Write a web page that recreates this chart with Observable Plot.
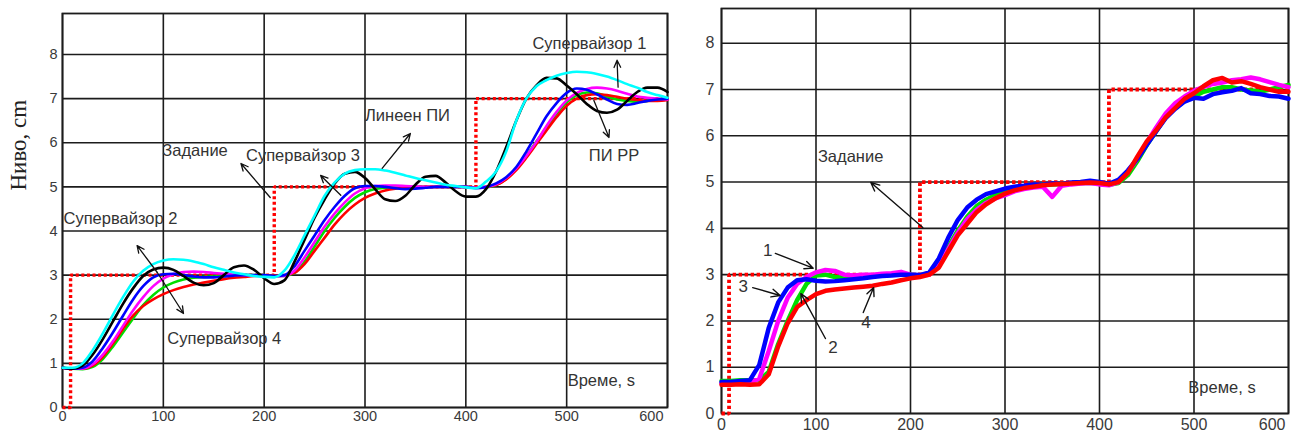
<!DOCTYPE html>
<html>
<head>
<meta charset="utf-8">
<script src="https://cdn.jsdelivr.net/npm/d3@7"></script>
<script src="https://cdn.jsdelivr.net/npm/@observablehq/plot@0.6"></script>
<style>
  html, body { margin: 0; padding: 0; background: #fff; }
  #wrap { position: relative; width: 1295px; height: 434px; overflow: hidden; }
  #left { position: absolute; left: 0; top: 0; }
  #right { position: absolute; left: 680px; top: 0; }
</style>
</head>
<body>
<div id="wrap"><div id="left"></div><div id="right"></div></div>
<script>
// ---------- shared ticks ----------
const xTicks = [0, 100, 200, 300, 400, 500, 600];
const yTicks = [0, 1, 2, 3, 4, 5, 6, 7, 8];
const yLabel = "Ниво, cm";
const xLabel = "Време, s";

// ---------- LEFT PANEL (simulation) ----------
const tL = [0,10,20,30,40,50,60,70,80,90,100,110,120,130,140,150,160,170,180,190,200,210,220,230,240,250,260,270,280,290,300,310,320,330,340,350,360,370,380,390,400,410,420,430,440,450,460,470,480,490,500,510,520,530,540,550,560,570,580,590,600];
const setT = [0, 8, 8, 210, 210, 410, 410, 600];
const setV = [0, 0, 3, 3, 5, 5, 7, 7];

const cyanL = [0.9,0.9,1.0,1.3,1.68,2.1,2.5,2.85,3.1,3.25,3.33,3.36,3.35,3.31,3.25,3.18,3.12,3.06,3.02,2.98,2.96,2.95,3.1,3.45,3.9,4.35,4.8,5.1,5.3,5.38,5.4,5.4,5.37,5.32,5.26,5.2,5.15,5.1,5.05,5.02,4.99,4.97,5.12,5.35,5.8,6.5,7.0,7.28,7.42,7.52,7.58,7.61,7.6,7.56,7.5,7.42,7.33,7.25,7.15,7.08,7.02];
const blackL = [0.9,0.88,0.95,1.2,1.55,1.95,2.35,2.7,2.98,3.13,3.17,3.12,2.98,2.83,2.77,2.82,3.0,3.18,3.22,3.12,2.93,2.8,2.88,3.3,3.8,4.3,4.72,5.08,5.3,5.34,5.2,4.95,4.72,4.68,4.8,5.05,5.23,5.25,5.1,4.9,4.78,4.78,4.95,5.35,5.9,6.5,7.0,7.3,7.47,7.46,7.3,7.1,6.88,6.72,6.68,6.75,6.95,7.15,7.25,7.25,7.15];
const blueL = [0.9,0.88,0.9,1.05,1.35,1.7,2.08,2.45,2.75,2.95,3.02,3.03,3.0,2.97,2.95,2.95,2.97,2.99,3.0,3.0,3.0,2.98,3.0,3.2,3.55,3.9,4.25,4.55,4.8,4.97,5.02,5.02,5.0,4.97,4.95,4.96,4.98,5.0,5.0,5.0,5.0,4.97,5.0,5.08,5.22,5.45,5.8,6.2,6.6,6.9,7.13,7.23,7.2,7.1,6.98,6.88,6.86,6.9,6.95,6.98,7.0];
const magentaL = [0.9,0.88,0.88,0.98,1.2,1.5,1.85,2.2,2.5,2.75,2.92,3.02,3.07,3.08,3.07,3.05,3.03,3.01,3.0,2.99,2.98,2.97,2.98,3.1,3.4,3.75,4.1,4.4,4.65,4.85,4.97,5.02,5.03,5.03,5.02,5.01,5.0,5.0,5.0,5.0,5.0,4.98,5.0,5.06,5.2,5.42,5.7,6.02,6.38,6.7,6.96,7.13,7.22,7.25,7.23,7.18,7.11,7.05,7.02,7.0,6.98];
const greenL = [0.9,0.88,0.87,0.92,1.1,1.38,1.7,2.02,2.32,2.55,2.72,2.83,2.9,2.94,2.96,2.97,2.98,2.99,3.0,3.0,3.0,2.98,2.98,3.05,3.3,3.65,4.0,4.3,4.55,4.75,4.88,4.95,4.98,5.0,5.0,5.0,5.0,5.0,5.0,5.0,5.0,4.98,4.99,5.04,5.18,5.4,5.7,6.03,6.35,6.66,6.92,7.08,7.14,7.12,7.05,6.98,6.95,6.93,6.95,6.97,6.98];
const redL = [0.9,0.88,0.88,0.95,1.15,1.45,1.78,2.08,2.3,2.45,2.57,2.66,2.73,2.79,2.83,2.87,2.91,2.94,2.96,2.98,2.99,2.99,3.0,3.05,3.25,3.55,3.85,4.15,4.4,4.6,4.75,4.85,4.92,4.96,4.98,4.99,5.0,5.0,5.0,5.0,5.0,4.99,5.0,5.04,5.17,5.38,5.66,5.97,6.28,6.58,6.84,7.0,7.08,7.1,7.08,7.04,7.0,6.97,6.95,6.95,6.97];

// annotation texts (left)
const annL = ["Супервайзор 1", "Линеен ПИ", "Супервайзор 3", "Задание", "Супервайзор 2", "Супервайзор 4", "ПИ РР", xLabel];
const annLx = [466, 300, 182, 99, 1, 104, 522, 501];
const annLy = [8.25, 6.62, 5.71, 5.83, 4.29, 1.56, 5.71, 0.61];
// arrows (left): tail -> head
const arrL_x1 = [551, 317, 276, 206, 94, 94, 527];
const arrL_y1 = [7.26, 5.42, 4.81, 4.76, 3.06, 3.06, 6.96];
const arrL_x2 = [550, 345, 256, 177, 74, 120, 542];
const arrL_y2 = [7.87, 6.21, 5.26, 5.53, 3.67, 2.13, 6.12];

// ---------- RIGHT PANEL (experiment) ----------
const tR = tL;
const blueR = [0.68,0.68,0.7,0.72,1.05,1.85,2.4,2.72,2.88,2.9,2.87,2.85,2.86,2.88,2.9,2.92,2.95,2.97,2.98,3.0,3.0,2.99,3.05,3.35,3.8,4.18,4.45,4.62,4.74,4.8,4.86,4.9,4.92,4.95,4.94,4.97,4.96,4.99,5.0,5.03,5.0,4.96,5.05,5.25,5.5,5.8,6.1,6.38,6.58,6.74,6.82,6.8,6.9,6.94,6.97,7.03,6.92,6.9,6.86,6.85,6.8];
const magentaR = [0.65,0.66,0.66,0.68,0.75,1.35,2.0,2.5,2.8,2.95,3.05,3.1,3.08,3.0,2.98,3.0,3.0,3.02,3.03,3.06,3.0,2.98,3.0,3.2,3.55,3.9,4.2,4.4,4.55,4.65,4.72,4.8,4.85,4.88,4.9,4.68,4.92,4.95,4.97,4.98,4.95,4.93,5.0,5.22,5.5,5.85,6.18,6.48,6.7,6.85,6.97,7.06,7.12,7.15,7.2,7.22,7.26,7.22,7.16,7.1,7.05];
const greenR = [0.7,0.7,0.72,0.72,0.72,0.9,1.5,2.0,2.45,2.8,2.98,3.0,2.95,2.93,2.95,2.96,2.97,2.98,3.0,3.0,3.0,2.98,3.02,3.25,3.6,3.95,4.25,4.48,4.62,4.72,4.8,4.86,4.9,4.92,4.94,4.95,4.96,4.97,4.98,4.98,4.97,4.94,4.98,5.15,5.45,5.8,6.1,6.4,6.6,6.75,6.85,6.95,7.0,7.05,7.05,7.0,6.98,6.95,7.0,7.05,7.1];
const redR = [0.62,0.62,0.63,0.62,0.63,0.85,1.45,1.95,2.3,2.45,2.58,2.65,2.68,2.7,2.72,2.74,2.76,2.8,2.83,2.88,2.92,2.95,3.0,3.15,3.5,3.85,4.1,4.35,4.52,4.65,4.75,4.82,4.87,4.9,4.93,4.95,4.96,4.97,4.98,4.99,4.98,4.95,5.0,5.2,5.55,5.88,6.12,6.4,6.6,6.8,6.92,7.07,7.2,7.25,7.15,7.18,7.12,7.05,7.0,6.95,6.95];

const annR = ["Задание", "1", "3", "2", "4", xLabel];
const annRx = [102, 49, 23, 118, 153, 494];
const annRy = [5.54, 3.52, 2.75, 1.43, 1.97, 0.56];
const arrR_x1 = [213, 57, 33, 110, 150];
const arrR_y1 = [4.02, 3.46, 2.72, 1.62, 2.18];
const arrR_x2 = [158, 97, 62, 84, 161];
const arrR_y2 = [4.99, 3.14, 2.55, 2.59, 2.72];

// ---------- helpers ----------
function rows(t, v, key) { return t.map((x, i) => ({t: x, v: v[i], key})); }
const setRows = rows(setT, setV, "set");
function annRows(txt, xs, ys) { return txt.map((s, i) => ({s, x: xs[i], y: ys[i]})); }
function arrRows(x1, y1, x2, y2) { return x1.map((_, i) => ({x1: x1[i], y1: y1[i], x2: x2[i], y2: y2[i]})); }

const gridStroke = "#1c1c1c";
const labelColor = "#3a3a3a";
const sans = "'Liberation Sans', Arial, sans-serif";

function baseMarks(opts) {
  return [
    Plot.gridX(xTicks, {stroke: gridStroke, strokeOpacity: 1, strokeWidth: 1.6}),
    Plot.gridY(yTicks, {stroke: gridStroke, strokeOpacity: 1, strokeWidth: 1.6}),
    Plot.frame({stroke: gridStroke, strokeWidth: 1.8}),
    Plot.axisX(xTicks.slice(0, -1), {tickSize: 0, tickPadding: opts.xPad, fontSize: opts.fs, fill: labelColor, label: null}),
    Plot.text([xTicks[xTicks.length - 1]], {x: d => d, frameAnchor: "bottom", lineAnchor: "top", textAnchor: "end", dy: opts.xPad, dx: opts.lastDx, fontSize: opts.fs, fill: labelColor}),
    Plot.axisY(yTicks, {tickSize: 0, tickPadding: opts.yPad, fontSize: opts.fs, fill: labelColor, label: null})
  ];
}

// ---------- LEFT PLOT ----------
const left = Plot.plot({
  width: 680, height: 434,
  marginLeft: 62, marginRight: 13, marginTop: 13, marginBottom: 27,
  x: {domain: [0, 600]},
  y: {domain: [0, 8.93]},
  style: {fontFamily: sans, background: "transparent", overflow: "visible"},
  marks: [
    ...baseMarks({xPad: 3, yPad: 5, fs: 14.5, lastDx: -4}),
    Plot.line(setRows, {x: "t", y: "v", stroke: "#ff0000", strokeWidth: 3.4, strokeDasharray: "3,2.6", strokeLinecap: "butt", strokeLinejoin: "miter"}),
    Plot.line(rows(tL, greenL, "g"), {x: "t", y: "v", stroke: "#00dd00", strokeWidth: 2.6, curve: "monotone-x"}),
    Plot.line(rows(tL, redL, "r"), {x: "t", y: "v", stroke: "#ff0000", strokeWidth: 2.6, curve: "monotone-x"}),
    Plot.line(rows(tL, magentaL, "m"), {x: "t", y: "v", stroke: "#ff00ff", strokeWidth: 2.6, curve: "monotone-x"}),
    Plot.line(rows(tL, blueL, "b"), {x: "t", y: "v", stroke: "#0000ff", strokeWidth: 2.6, curve: "monotone-x"}),
    Plot.line(rows(tL, blackL, "k"), {x: "t", y: "v", stroke: "#000000", strokeWidth: 2.6, curve: "monotone-x"}),
    Plot.line(rows(tL, cyanL, "c"), {x: "t", y: "v", stroke: "#00ffff", strokeWidth: 2.6, curve: "monotone-x"}),
    Plot.arrow(arrRows(arrL_x1, arrL_y1, arrL_x2, arrL_y2), {x1: "x1", y1: "y1", x2: "x2", y2: "y2", stroke: "#111", strokeWidth: 1.3, headLength: 9, headAngle: 50}),
    Plot.text(annRows(annL, annLx, annLy), {x: "x", y: "y", text: "s", textAnchor: "start", fontSize: 16.5, fill: "#333"}),
    Plot.text([yLabel], {frameAnchor: "left", rotate: -90, dx: -44, dy: -20, fontSize: 23, fontFamily: "'Liberation Serif', 'Times New Roman', serif", fill: "#222"})
  ]
});
document.getElementById("left").appendChild(left);

// ---------- RIGHT PLOT ----------
const right = Plot.plot({
  width: 615, height: 434,
  marginLeft: 41, marginRight: 7, marginTop: 8, marginBottom: 21,
  x: {domain: [0, 600]},
  y: {domain: [0, 8.75]},
  style: {fontFamily: sans, background: "transparent", overflow: "visible"},
  marks: [
    ...baseMarks({xPad: 5, yPad: 7, fs: 16, lastDx: -3}),
    Plot.line(setRows, {x: "t", y: "v", stroke: "#ff0000", strokeWidth: 3.8, strokeDasharray: "3.4,2.6", strokeLinecap: "butt", strokeLinejoin: "miter"}),
    Plot.line(rows(tR, greenR, "g"), {x: "t", y: "v", stroke: "#00dd00", strokeWidth: 4.5}),
    Plot.line(rows(tR, magentaR, "m"), {x: "t", y: "v", stroke: "#ff00ff", strokeWidth: 4.5}),
    Plot.line(rows(tR, blueR, "b"), {x: "t", y: "v", stroke: "#0000ff", strokeWidth: 4.5}),
    Plot.line(rows(tR, redR, "r"), {x: "t", y: "v", stroke: "#ff0000", strokeWidth: 4.5}),
    Plot.arrow(arrRows(arrR_x1, arrR_y1, arrR_x2, arrR_y2), {x1: "x1", y1: "y1", x2: "x2", y2: "y2", stroke: "#111", strokeWidth: 1.4, headLength: 10, headAngle: 50}),
    Plot.text(annRows(annR.slice(0, 1), annRx.slice(0, 1), annRy.slice(0, 1)), {x: "x", y: "y", text: "s", textAnchor: "start", fontSize: 16.5, fill: "#333"}),
    Plot.text(annRows(annR.slice(1, 5), annRx.slice(1, 5), annRy.slice(1, 5)), {x: "x", y: "y", text: "s", textAnchor: "middle", fontSize: 17, fill: "#333"}),
    Plot.text(annRows(annR.slice(5), annRx.slice(5), annRy.slice(5)), {x: "x", y: "y", text: "s", textAnchor: "start", fontSize: 16.5, fill: "#333"})
  ]
});
document.getElementById("right").appendChild(right);
</script>
</body>
</html>
